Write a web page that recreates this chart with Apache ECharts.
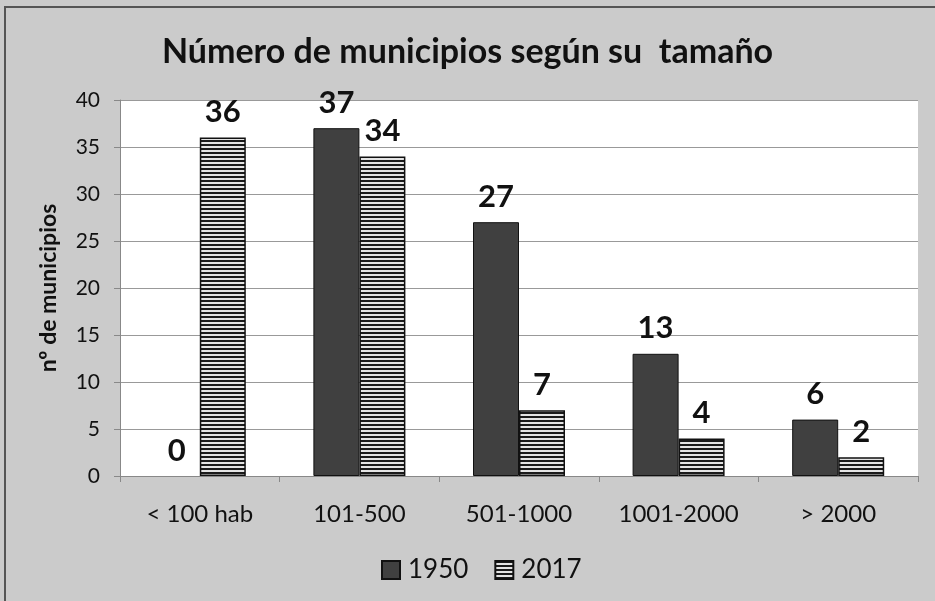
<!DOCTYPE html>
<html><head><meta charset="utf-8">
<script src="https://cdn.jsdelivr.net/npm/echarts@6/dist/echarts.min.js"></script>
<style>html,body{margin:0;padding:0;background:#fff;}#c{width:935px;height:601px;}</style>
</head><body><div id="c"></div>
<script>
var categories = ['< 100 hab', '101-500', '501-1000', '1001-2000', '> 2000'];
var values1950 = [0, 37, 27, 13, 6];
var values2017 = [36, 34, 7, 4, 2];
var seriesNames = ['1950', '2017'];
var yTicks = {min: 0, max: 40, interval: 5};

var pc = document.createElement('canvas');
pc.width = 4; pc.height = 4;
var ctx = pc.getContext('2d');
ctx.fillStyle = '#e4e4e4'; ctx.fillRect(0, 0, 4, 4);
ctx.fillStyle = '#1a1a1a'; ctx.fillRect(0, 0, 4, 2);

function toData(arr) {
  return arr.map(function (v) {
    return v === 0 ? {value: v, itemStyle: {borderWidth: 0}} : v;
  });
}

var font = 'Lato';
var chart = echarts.init(document.getElementById('c'));
chart.setOption({
  backgroundColor: '#cbcbcb',
  animation: false,
  textStyle: {fontFamily: font},
  graphic: [
    {type: 'rect', shape: {x: 5, y: 7, width: 1000, height: 1000}, style: {fill: 'none', stroke: '#555', lineWidth: 2}, silent: true}
  ],
  title: {
    text: 'Número de municipios según su  tamaño',
    left: 'center', top: 30,
    textStyle: {fontFamily: font, fontSize: 34, fontWeight: 'bold', color: '#111'}
  },
  grid: {left: 120, right: 17, top: 100, bottom: 125, show: true, backgroundColor: '#fff', borderWidth: 0},
  legend: {
    data: seriesNames, bottom: 13, left: 376, itemWidth: 18, itemHeight: 18, itemGap: 26,
    textStyle: {fontFamily: font, fontSize: 26, color: '#111', padding: [0, 0, 0, 3]},
    icon: 'rect'
  },
  xAxis: {
    type: 'category', data: categories,
    axisLine: {lineStyle: {color: '#888'}},
    axisTick: {show: true, length: 6, lineStyle: {color: '#888'}},
    axisLabel: {fontFamily: font, fontSize: 24, color: '#111', margin: 26}
  },
  yAxis: {
    type: 'value', min: yTicks.min, max: yTicks.max, interval: yTicks.interval,
    name: 'nº de municipios', nameLocation: 'middle', nameGap: 60, nameRotate: 90,
    nameTextStyle: {fontFamily: font, fontSize: 23, fontWeight: 'bold', color: '#111'},
    axisLine: {show: true, lineStyle: {color: '#888'}},
    axisTick: {show: true, length: 6, lineStyle: {color: '#888'}},
    axisLabel: {fontFamily: font, fontSize: 21, color: '#111', margin: 20},
    splitLine: {lineStyle: {color: '#999'}}
  },
  series: [
    {
      name: seriesNames[0], type: 'bar', data: toData(values1950), barWidth: 46, barGap: '0%',
      itemStyle: {color: '#404040', borderColor: '#111', borderWidth: 1},
      label: {show: true, position: 'top', distance: 10, fontFamily: font, fontSize: 31, fontWeight: 'bold', color: '#111'}
    },
    {
      name: seriesNames[1], type: 'bar', data: values2017, barWidth: 46,
      itemStyle: {color: {image: pc, repeat: 'repeat'}, borderColor: '#111', borderWidth: 1.5},
      label: {show: true, position: 'top', distance: 10, fontFamily: font, fontSize: 31, fontWeight: 'bold', color: '#111'}
    }
  ]
});
</script></body></html>
